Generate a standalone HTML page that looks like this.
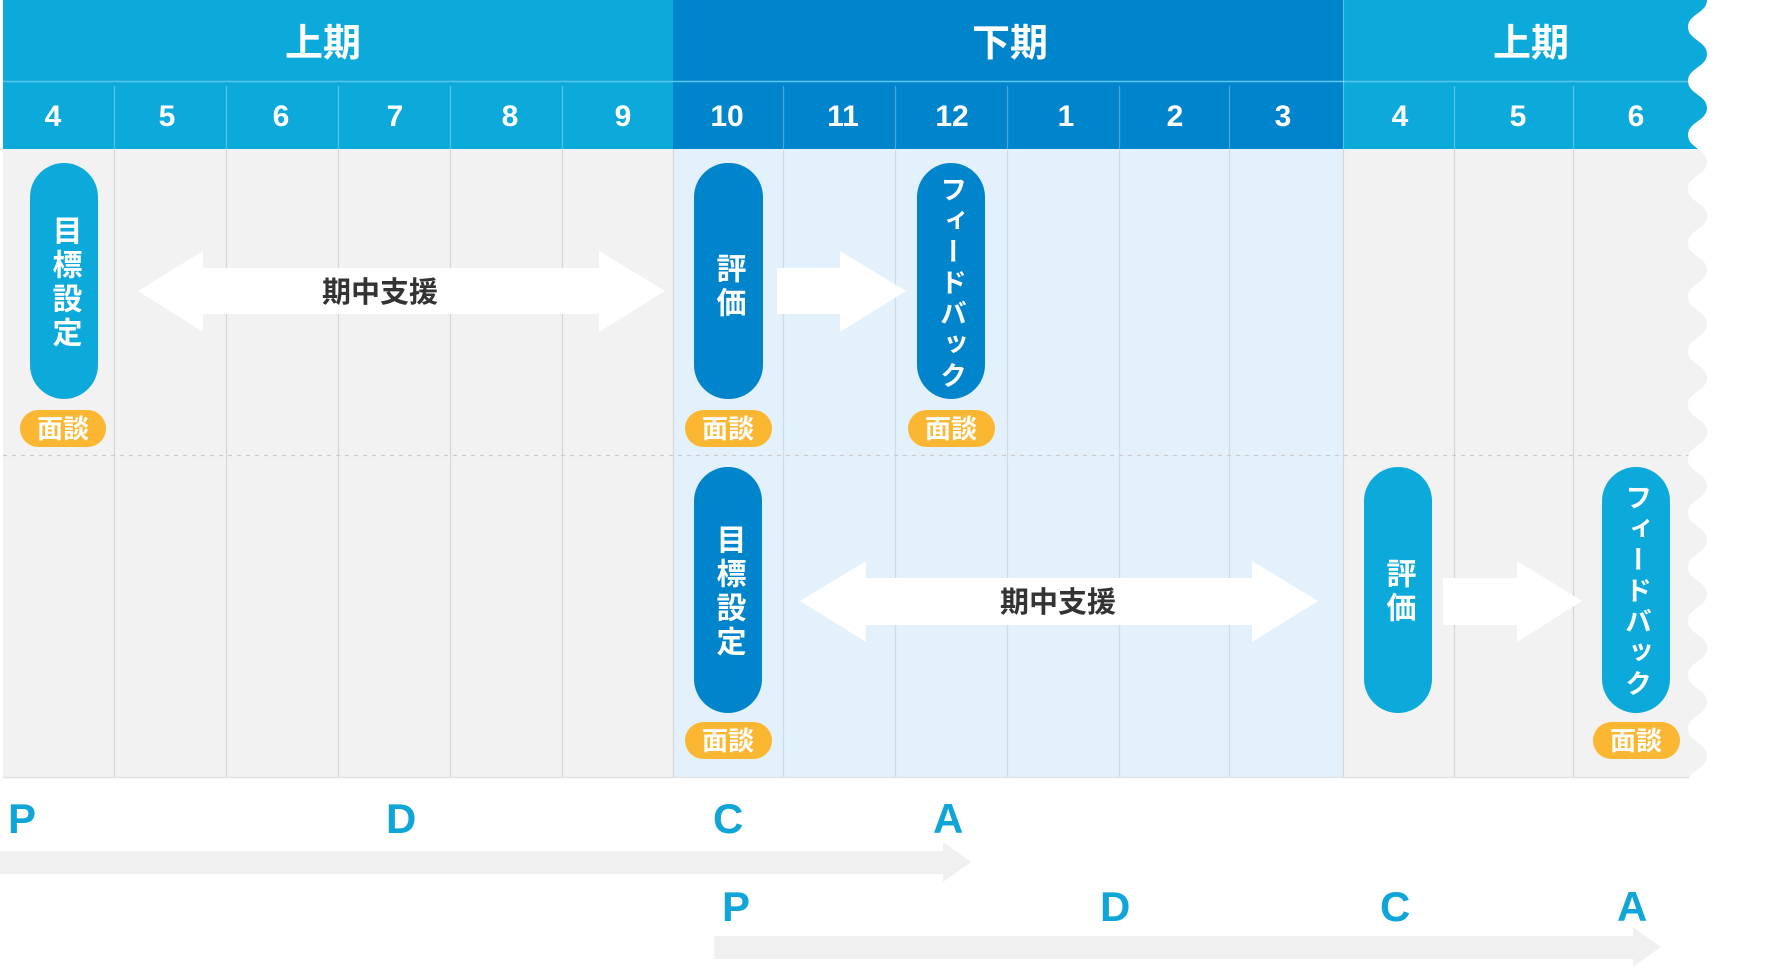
<!DOCTYPE html>
<html><head><meta charset="utf-8"><style>
html,body{margin:0;padding:0;background:#fff;}
svg{display:block;}
text{font-family:"Liberation Sans","Noto Sans CJK JP",sans-serif;font-weight:bold;}
.v{writing-mode:vertical-rl;}
</style></head><body>
<svg width="1772" height="969" viewBox="0 0 1772 969" xmlns="http://www.w3.org/2000/svg">
<rect x="3" y="0" width="670" height="149" fill="#0ca9db"/>
<rect x="673" y="0" width="670" height="149" fill="#0085cc"/>
<rect x="1343" y="0" width="380" height="149" fill="#0ca9db"/>
<line x1="3" y1="81.5" x2="1720" y2="81.5" stroke="#5cc6ea" stroke-width="1.5"/>
<g stroke="#ffffff" stroke-opacity="0.3" stroke-width="1.2">
<line x1="114.5" y1="86" x2="114.5" y2="149"/><line x1="226.5" y1="86" x2="226.5" y2="149"/>
<line x1="338.5" y1="86" x2="338.5" y2="149"/><line x1="450.5" y1="86" x2="450.5" y2="149"/>
<line x1="562.5" y1="86" x2="562.5" y2="149"/>
<line x1="783.5" y1="86" x2="783.5" y2="149"/><line x1="895.5" y1="86" x2="895.5" y2="149"/>
<line x1="1007.5" y1="86" x2="1007.5" y2="149"/><line x1="1119.5" y1="86" x2="1119.5" y2="149"/>
<line x1="1229.5" y1="86" x2="1229.5" y2="149"/>
<line x1="1343.5" y1="0" x2="1343.5" y2="149"/>
<line x1="1454.5" y1="86" x2="1454.5" y2="149"/><line x1="1573.5" y1="86" x2="1573.5" y2="149"/>
</g>
<g fill="#fff" font-size="38" text-anchor="middle">
<text x="323" y="56">上期</text><text x="1010" y="56">下期</text><text x="1531" y="56">上期</text>
</g>
<g fill="#fff" font-size="30" text-anchor="middle">
<text x="53" y="126">4</text><text x="167" y="126">5</text><text x="281" y="126">6</text>
<text x="395" y="126">7</text><text x="510" y="126">8</text><text x="623" y="126">9</text>
<text x="727" y="126">10</text><text x="843" y="126">11</text><text x="952" y="126">12</text>
<text x="1066" y="126">1</text><text x="1175" y="126">2</text><text x="1283" y="126">3</text>
<text x="1400" y="126">4</text><text x="1518" y="126">5</text><text x="1636" y="126">6</text>
</g>
<rect x="3" y="149" width="1720" height="628" fill="#f2f2f2"/>
<rect x="673" y="149" width="670" height="628" fill="#e3f1fc"/>
<line x1="3" y1="777.5" x2="1700" y2="777.5" stroke="#e2e2e2" stroke-width="1.5"/>
<g stroke="#d6d6d6" stroke-width="1.2">
<line x1="114.5" y1="149" x2="114.5" y2="777"/><line x1="226.5" y1="149" x2="226.5" y2="777"/>
<line x1="338.5" y1="149" x2="338.5" y2="777"/><line x1="450.5" y1="149" x2="450.5" y2="777"/>
<line x1="562.5" y1="149" x2="562.5" y2="777"/><line x1="673.5" y1="149" x2="673.5" y2="777"/>
<line x1="1343.5" y1="149" x2="1343.5" y2="777"/>
<line x1="1454.5" y1="149" x2="1454.5" y2="777"/><line x1="1573.5" y1="149" x2="1573.5" y2="777"/>
</g>
<g stroke="#cfdbe6" stroke-width="1.2">
<line x1="783.5" y1="149" x2="783.5" y2="777"/><line x1="895.5" y1="149" x2="895.5" y2="777"/>
<line x1="1007.5" y1="149" x2="1007.5" y2="777"/><line x1="1119.5" y1="149" x2="1119.5" y2="777"/>
<line x1="1229.5" y1="149" x2="1229.5" y2="777"/>
</g>
<line x1="3" y1="455.5" x2="1695" y2="455.5" stroke="#cccccc" stroke-width="1.3" stroke-dasharray="4 5"/>
<path fill="#fff" d="M1707,0 c0,13 -19,14 -19,27 s19,14 19,27 c0,13 -19,14 -19,27 s19,14 19,27 c0,13 -19,14 -19,27 s19,14 19,27 c0,13 -19,14 -19,27 s19,14 19,27 c0,13 -19,14 -19,27 s19,14 19,27 c0,13 -19,14 -19,27 s19,14 19,27 c0,13 -19,14 -19,27 s19,14 19,27 c0,13 -19,14 -19,27 s19,14 19,27 c0,13 -19,14 -19,27 s19,14 19,27 c0,13 -19,14 -19,27 s19,14 19,27 c0,13 -19,14 -19,27 s19,14 19,27 c0,13 -19,14 -19,27 s19,14 19,27 c0,13 -19,14 -19,27 s19,14 19,27 c0,13 -19,14 -19,27 s19,14 19,27 c0,13 -19,14 -19,27 L1688,800 L1772,800 L1772,0 Z"/>
<polygon fill="#fff" points="138,291 203,251 203,268 599,268 599,251 665,291 599,332 599,314 203,314 203,332"/>
<text x="380" y="302" font-size="29" fill="#333" text-anchor="middle">期中支援</text>
<polygon fill="#fff" points="777,268 840,268 840,251 906,291 840,332 840,314 777,314"/>
<polygon fill="#fff" points="800,601 866,561 866,578 1252,578 1252,561 1318,601 1252,642 1252,625 866,625 866,642"/>
<text x="1058" y="612" font-size="29" fill="#333" text-anchor="middle">期中支援</text>
<polygon fill="#fff" points="1443,578 1517,578 1517,561 1582,601 1517,642 1517,625 1443,625"/>
<rect x="30" y="163" width="68" height="236" rx="34" fill="#0ca9db"/>
<text class="v" x="64" y="283" font-size="30" letter-spacing="4" fill="#fff" text-anchor="middle">目標設定</text>
<rect x="694" y="163" width="69" height="236" rx="34" fill="#0085cc"/>
<text class="v" x="728" y="287" font-size="30" letter-spacing="4" fill="#fff" text-anchor="middle">評価</text>
<rect x="917" y="163" width="68" height="236" rx="34" fill="#0085cc"/>
<text class="v" x="951" y="284" font-size="27" letter-spacing="4" fill="#fff" text-anchor="middle">フィードバック</text>
<rect x="694" y="467" width="68" height="246" rx="34" fill="#0085cc"/>
<text class="v" x="728" y="592" font-size="30" letter-spacing="4" fill="#fff" text-anchor="middle">目標設定</text>
<rect x="1364" y="467" width="68" height="246" rx="34" fill="#0ca9db"/>
<text class="v" x="1398" y="592" font-size="30" letter-spacing="4" fill="#fff" text-anchor="middle">評価</text>
<rect x="1602" y="467" width="68" height="246" rx="34" fill="#0ca9db"/>
<text class="v" x="1636" y="592" font-size="27" letter-spacing="4" fill="#fff" text-anchor="middle">フィードバック</text>
<g fill="#fbb731">
<rect x="20" y="410" width="86" height="37" rx="18.5"/>
<rect x="685" y="410" width="87" height="37" rx="18.5"/>
<rect x="908" y="410" width="87" height="37" rx="18.5"/>
<rect x="685" y="722" width="87" height="37" rx="18.5"/>
<rect x="1593" y="722" width="87" height="37" rx="18.5"/>
</g>
<g fill="#fff" font-size="26" text-anchor="middle">
<text x="63" y="438">面談</text>
<text x="728" y="438">面談</text>
<text x="951" y="438">面談</text>
<text x="728" y="750">面談</text>
<text x="1636" y="750">面談</text>
</g>
<polygon fill="#f0f0f0" points="0,851 943,851 943,842 971,862 943,882 943,874 0,874"/>
<polygon fill="#f0f0f0" points="714,936 1633,936 1633,927 1661,947 1633,967 1633,959 714,959"/>
<g fill="#10a5d8" font-size="42">
<text x="8" y="833">P</text><text x="386" y="833">D</text><text x="713" y="833">C</text><text x="933" y="833">A</text>
<text x="722" y="921">P</text><text x="1100" y="921">D</text><text x="1380" y="921">C</text><text x="1617" y="921">A</text>
</g>
</svg>
</body></html>
